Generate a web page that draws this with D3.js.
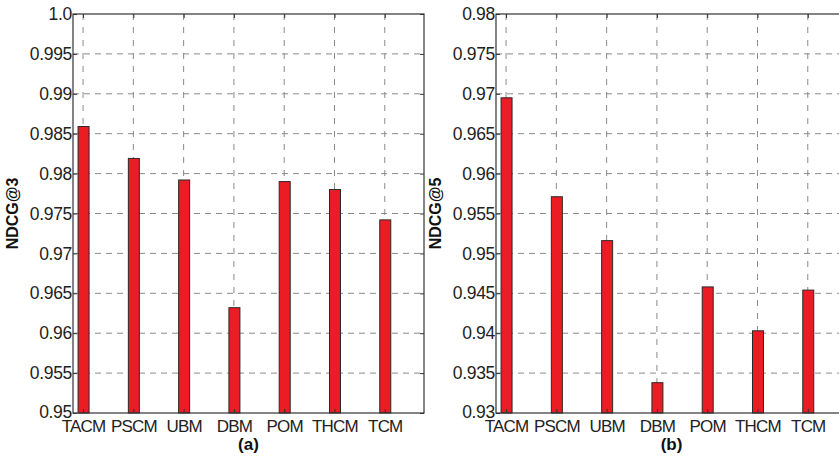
<!DOCTYPE html>
<html>
<head>
<meta charset="utf-8">
<script src="https://cdn.jsdelivr.net/npm/d3@7"></script>
<style>
  body { margin: 0; background: #fff; }
  text { font-family: "Liberation Sans", Arial, sans-serif; }
</style>
</head>
<body>
<svg id="chart" width="839" height="458"></svg>
<script>
// **** Data
const models = ["TACM", "PSCM", "UBM", "DBM", "POM", "THCM", "TCM"];
const ndcg3 = [0.9859, 0.9819, 0.9792, 0.9632, 0.9790, 0.9780, 0.9742];
const ndcg5 = [0.9695, 0.9571, 0.9516, 0.9338, 0.9458, 0.9403, 0.9454];
const ticks3 = [0.95, 0.955, 0.96, 0.965, 0.97, 0.975, 0.98, 0.985, 0.99, 0.995, 1.0];
const ticks5 = [0.93, 0.935, 0.94, 0.945, 0.95, 0.955, 0.96, 0.965, 0.97, 0.975, 0.98];
const tickLabels3 = ["0.95", "0.955", "0.96", "0.965", "0.97", "0.975", "0.98", "0.985", "0.99", "0.995", "1.0"];

const svg = d3.select("#chart");

// panel drawer
function drawPanel(left, values, ticks, labels, yLabel, caption) {
  const top = 14, bottom = 413, width = 351;
  const g = svg.append("g");

  const x = d3.scaleLinear().domain([0.8, 7.78]).range([left, left + width]);
  const y = d3.scaleLinear().domain([ticks[0], ticks[ticks.length - 1]]).range([bottom, top]);

  // grid
  g.selectAll(".hgrid")
    .data(ticks.slice(1, -1))
    .join("line")
    .attr("x1", left).attr("x2", left + width)
    .attr("y1", d => y(d)).attr("y2", d => y(d))
    .attr("stroke", "#8a8a8a").attr("stroke-width", 1)
    .attr("stroke-dasharray", "6,5");

  g.selectAll(".vgrid")
    .data(models)
    .join("line")
    .attr("x1", (d, i) => x(i + 1)).attr("x2", (d, i) => x(i + 1))
    .attr("y1", top).attr("y2", bottom)
    .attr("stroke", "#8a8a8a").attr("stroke-width", 1)
    .attr("stroke-dasharray", "6,7");

  // bars
  const bw = 11;
  g.selectAll(".bar")
    .data(values)
    .join("rect")
    .attr("x", (d, i) => x(i + 1) - bw / 2 + 0.5)
    .attr("y", d => y(d))
    .attr("width", bw)
    .attr("height", d => bottom - y(d))
    .attr("fill", "#ec1c24")
    .attr("stroke", "#2a2a2a")
    .attr("stroke-width", 1);

  // axes
  const yAxis = d3.axisLeft(y).tickValues(ticks).tickSize(-4).tickPadding(1)
    .tickFormat((d, i) => labels ? labels[i] : String(d));
  const ya = g.append("g").attr("transform", `translate(${left},0)`).call(yAxis);
  ya.select(".domain").remove();
  ya.selectAll("line").attr("stroke", "#333");
  ya.selectAll("text").attr("font-size", 17.5).attr("fill", "#222")
    .attr("letter-spacing", -0.3);
  // lift the bottom label a touch so it only grazes the first category name
  ya.selectAll("text").filter((d, i) => i === 0).attr("dy", "0.25em");

  const yr = g.append("g").attr("transform", `translate(${left + width},0)`)
    .call(d3.axisRight(y).tickValues(ticks).tickSize(-4).tickFormat(""));
  yr.select(".domain").remove();
  yr.selectAll("line").attr("stroke", "#333");

  const xAxis = d3.axisBottom(x).tickValues(d3.range(1, models.length + 1))
    .tickSize(-4).tickPadding(7).tickFormat(d => models[d - 1]);
  const xa = g.append("g").attr("transform", `translate(0,${bottom})`).call(xAxis);
  xa.select(".domain").remove();
  xa.selectAll("line").attr("stroke", "#333");
  xa.selectAll("text").attr("font-size", 17).attr("fill", "#222")
    .attr("letter-spacing", -0.8);

  const xt = g.append("g").attr("transform", `translate(0,${top})`)
    .call(d3.axisTop(x).tickValues(d3.range(1, models.length + 1)).tickSize(-4).tickFormat(""));
  xt.select(".domain").remove();
  xt.selectAll("line").attr("stroke", "#333");

  // frame
  g.append("rect")
    .attr("x", left).attr("y", top)
    .attr("width", width).attr("height", bottom - top)
    .attr("fill", "none").attr("stroke", "#333").attr("stroke-width", 1.2);

  // labels
  g.append("text")
    .attr("transform", `translate(${left - 55},${(top + bottom) / 2}) rotate(-90)`)
    .attr("text-anchor", "middle")
    .attr("font-size", 16).attr("font-weight", "bold").attr("fill", "#111")
    .text(yLabel);

  g.append("text")
    .attr("x", left + width / 2).attr("y", 450)
    .attr("text-anchor", "middle")
    .attr("font-size", 17).attr("font-weight", "bold").attr("fill", "#111")
    .text(caption);
}

drawPanel(73, ndcg3, ticks3, tickLabels3, "NDCG@3", "(a)");
drawPanel(496, ndcg5, ticks5, null, "NDCG@5", "(b)");
</script>
</body>
</html>
